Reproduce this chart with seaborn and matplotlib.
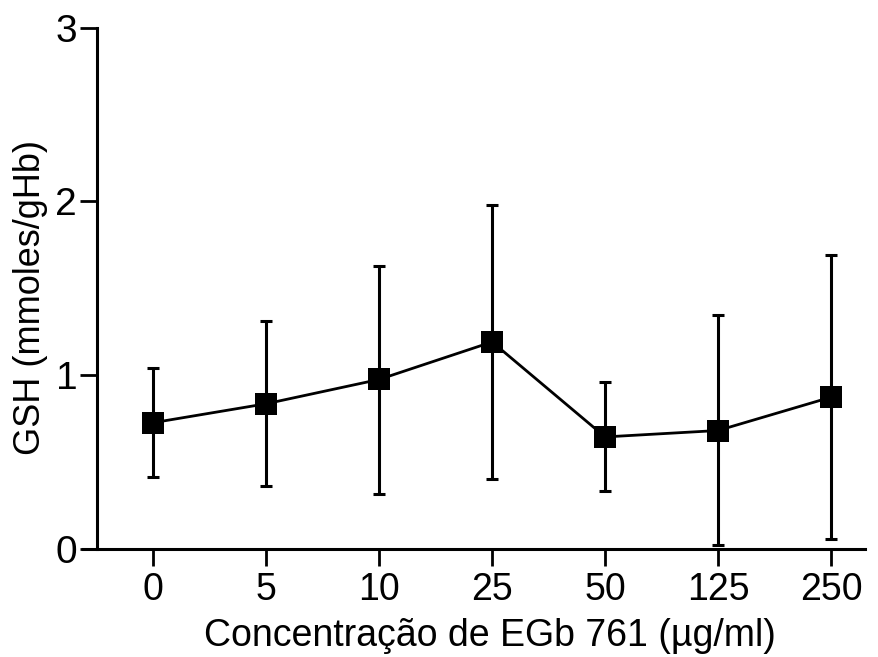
import matplotlib
matplotlib.use("Agg")
import matplotlib.pyplot as plt
import seaborn as sns
import pandas as pd
import numpy as np

concentrations = ["0", "5", "10", "25", "50", "125", "250"]
gsh_mean = [0.725, 0.834, 0.974, 1.19, 0.643, 0.68, 0.872]
err_upper = [1.04, 1.31, 1.63, 1.98, 0.96, 1.346, 1.69]
err_lower = [0.41, 0.36, 0.317, 0.40, 0.33, 0.02, 0.053]

sns.set_style("ticks")
plt.rcParams['font.family'] = ['Liberation Sans', 'DejaVu Sans']
plt.rcParams['text.color'] = 'black'
plt.rcParams['axes.labelcolor'] = 'black'
plt.rcParams['xtick.color'] = 'black'
plt.rcParams['ytick.color'] = 'black'

df = pd.DataFrame({"conc": concentrations, "gsh": gsh_mean})

fig = plt.figure(figsize=(8.79, 6.57), dpi=100)
ax = fig.add_axes([0.110, 0.165, 0.874, 0.793])

xpos = np.arange(len(concentrations))
yerr = np.array([np.array(gsh_mean) - np.array(err_lower),
                 np.array(err_upper) - np.array(gsh_mean)])
ax.errorbar(xpos, gsh_mean, yerr=yerr, fmt="none", ecolor="black",
            elinewidth=2.2, capsize=4.5, capthick=2.2, zorder=2)
sns.lineplot(data=df, x="conc", y="gsh", ax=ax, color="black",
             linewidth=2.0, marker="s", markersize=16, markeredgewidth=0,
             sort=False, zorder=3)

ax.set_xlim(-0.5, 6.3)
ax.set_ylim(0, 3)
ax.set_yticks([0, 1, 2, 3])
ax.set_xticks(xpos)
ax.set_xticklabels(concentrations)
ax.tick_params(axis="y", labelsize=28, width=2, length=12, color="black",
               labelcolor="black", pad=2)
ax.tick_params(axis="x", labelsize=27, width=2, length=12, color="black",
               labelcolor="black", pad=5)
for s in ["top", "right"]:
    ax.spines[s].set_visible(False)
for s in ["left", "bottom"]:
    ax.spines[s].set_linewidth(2.2)
    ax.spines[s].set_color("black")
ax.spines["bottom"].set_bounds(-0.62, 6.3)

ax.set_xlabel("Concentração de EGb 761 (µg/ml)", fontsize=27, color="black",
              va="center")
ax.xaxis.set_label_coords(0.512, -0.168)
ax.set_ylabel("GSH (mmoles/gHb)", fontsize=26, color="black", va="center")
ax.yaxis.set_label_coords(-0.086, 0.481)

fig.savefig("out.png", dpi=100)
